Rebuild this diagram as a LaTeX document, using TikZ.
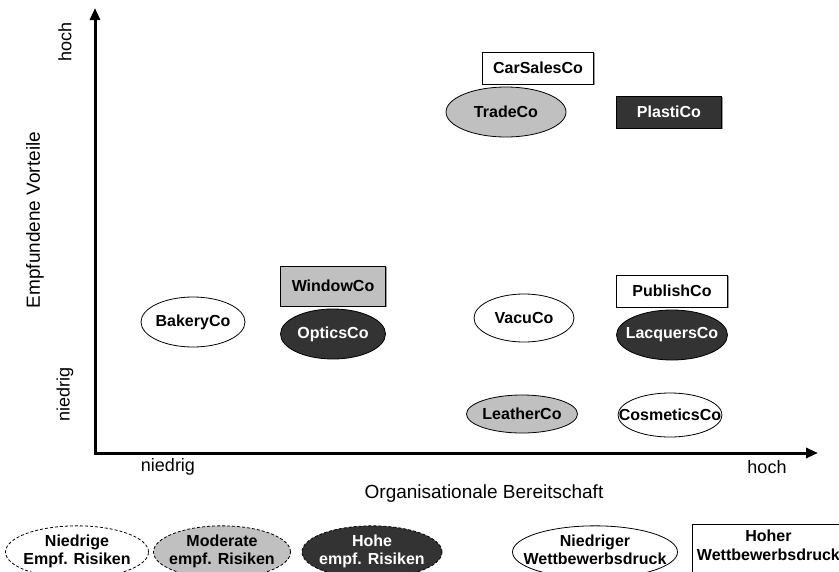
\documentclass[tikz,border=0pt]{standalone}
\usepackage{fontspec}
\setmainfont{Liberation Sans}
\usetikzlibrary{shapes.geometric,arrows.meta,shadows}

\definecolor{midgray}{HTML}{C0C0C0}
\definecolor{darkfill}{HTML}{333333}

% zero-width label, so an oval keeps its given size
\newcommand{\ovaltext}[1]{\makebox[0pt]{#1}}
\newcommand{\twolines}[2]{\makebox[0pt]{\begin{tabular}{@{}c@{}}#1\\[-1pt]#2\end{tabular}}}

\begin{document}
\begin{tikzpicture}[x=1pt,y=-1pt,
  company/.style={font=\fontsize{16}{19}\selectfont\bfseries, inner sep=0pt,
                  line width=0.8pt, draw=black, align=center},
  oval/.style={company, ellipse},
  box/.style={company, rectangle,
              drop shadow={shadow xshift=1pt, shadow yshift=-1pt, fill=gray!80, opacity=1}},
  lowrisk/.style={fill=white},
  modrisk/.style={fill=midgray},
  highrisk/.style={fill=darkfill, text=white},
  axisline/.style={line width=3pt, line join=miter,
                   {Triangle[length=12pt,width=10pt]}-{Triangle[length=12pt,width=10pt]}},
  ticklabel/.style={font=\fontsize{18}{18}\selectfont, inner sep=0pt},
  axistitle/.style={font=\fontsize{19}{19}\selectfont, inner sep=0pt},
  legenddash/.style={dash pattern=on 3pt off 2pt},
]
\useasboundingbox (0,0) rectangle (839,571);

% axes
\coordinate (origin) at (95,453);
\coordinate (ytip) at (95,8);
\coordinate (xtip) at (818,453);
\draw[axisline] (ytip) -- (origin) -- (xtip);

% axis labels
\node[ticklabel] (xlow) at (168,467) {niedrig};
\node[ticklabel] (xhigh) at (767,467) {hoch};
\node[axistitle] (xtitle) at (484,494) {Organisationale Bereitschaft};
\node[ticklabel, rotate=90] (yhigh) at (65,42) {hoch};
\node[ticklabel, rotate=90] (ylow) at (65,394) {niedrig};
\node[axistitle, rotate=90] (ytitle) at (35,220) {Empfundene Vorteile};

% companies
\node[box, lowrisk, minimum width=111, minimum height=32] (carsales) at (538,68) {CarSalesCo};
\node[oval, modrisk, minimum width=120, minimum height=50] (trade) at (506,112) {\ovaltext{TradeCo}};
\node[box, highrisk, minimum width=105, minimum height=32] (plasti) at (669,112) {PlastiCo};

\node[box, modrisk, minimum width=105, minimum height=40] (window) at (333,286) {WindowCo};
\node[oval, lowrisk, minimum width=104, minimum height=50] (bakery) at (193,322) {\ovaltext{BakeryCo}};
\node[oval, highrisk, minimum width=105, minimum height=50] (optics) at (333,334) {\ovaltext{OpticsCo}};

\node[oval, lowrisk, minimum width=100, minimum height=48] (vacu) at (524,318) {\ovaltext{VacuCo}};
\node[box, lowrisk, minimum width=111, minimum height=32] (publish) at (672,291) {PublishCo};
\node[oval, highrisk, minimum width=111, minimum height=50] (lacquers) at (672,335) {\ovaltext{LacquersCo}};

\node[oval, modrisk, minimum width=111, minimum height=38] (leather) at (522,414) {\ovaltext{LeatherCo}};
\node[oval, lowrisk, minimum width=104, minimum height=44] (cosmetics) at (670,415) {\ovaltext{CosmeticsCo}};

% legend
\node[oval, legenddash, lowrisk, minimum width=143, minimum height=48] (lglow) at (77,552) {\twolines{Niedrige}{Empf. Risiken}};
\node[oval, legenddash, modrisk, minimum width=137, minimum height=48] (lgmod) at (222,552) {\twolines{Moderate}{empf. Risiken}};
\node[oval, legenddash, highrisk, minimum width=140, minimum height=48] (lghigh) at (372,552) {\twolines{Hohe}{empf. Risiken}};
\node[oval, lowrisk, minimum width=165, minimum height=48] (lgweak) at (595,552) {\twolines{Niedriger}{Wettbewerbsdruck}};
\node[box, lowrisk, minimum width=152, minimum height=60, anchor=north west] (lgstrong) at (692,524) {};
\node[company, draw=none, anchor=north] (lgstrongtext) at ([yshift=-5pt]lgstrong.north) {Hoher\\Wettbewerbsdruck};
\end{tikzpicture}
\end{document}
